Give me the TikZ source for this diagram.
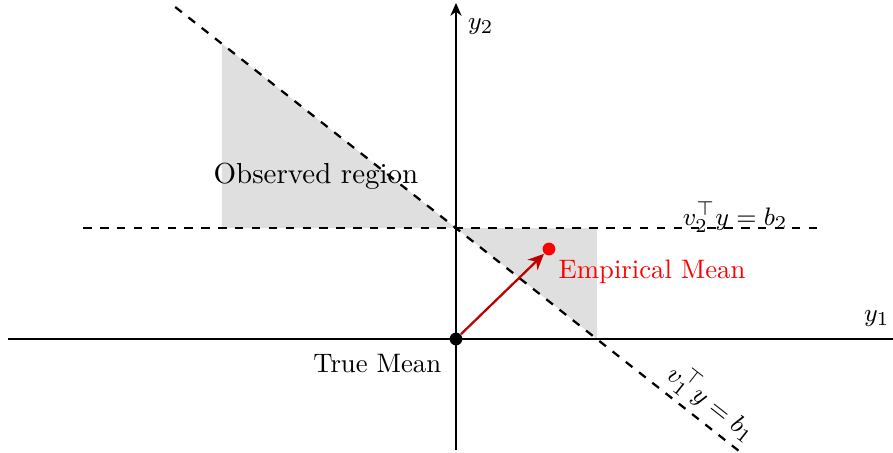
\documentclass[tikz,border=0pt]{standalone}
\usetikzlibrary{arrows.meta}
\begin{document}
\begin{tikzpicture}[font=\fontsize{9.5}{12}\selectfont]
 \useasboundingbox (-5.7,-1.4125) rectangle (5.4625,4.2375);
 % observed region
 \fill[gray!25] (-2.925,3.69) -- (-2.925,1.3875) -- (0,1.3875) -- cycle;
 \fill[gray!25] (0,1.3875) -- (1.7625,1.3875) -- (1.7625,0) -- cycle;
 % axes
 \draw (-5.6,0) -- (5.4625,0);
 \draw[-{Stealth[length=1.6mm,width=1.4mm]}] (0,-1.39) -- (0,4.2);
 \node (yone) at (5.26,0.26) {$y_1$};
 \node (ytwo) at (0.31,3.9) {$y_2$};
 % constraints
 \draw[thick,dashed] (-4.66,1.3875) -- (4.61,1.3875);
 \draw[thick,dashed] (-3.51,4.15) -- (3.55,-1.41);
 \node (ctwo) at (3.49,1.525) {$v_2^\top y = b_2$};
 \node[rotate=-38.2] (cone) at (3.2,-0.8) {$v_1^\top y = b_1$};
 \node[font=\fontsize{10.3}{12}\selectfont] (obs) at (-1.75,2.04) {Observed region};
 % means
 \node[circle,fill=black,inner sep=0pt,minimum size=1.6mm] (true) at (0,0) {};
 \node[circle,fill=red,inner sep=0pt,minimum size=1.6mm] (emp) at (1.1625,1.125) {};
 \draw[thick,red!75!black,-{Stealth[length=2mm,width=1.8mm]}] (true) -- (emp);
 \node[anchor=north east] at (true.south west) {True Mean};
 \node[anchor=west,red] at (1.16,0.84) {Empirical Mean};
\end{tikzpicture}
\end{document}
